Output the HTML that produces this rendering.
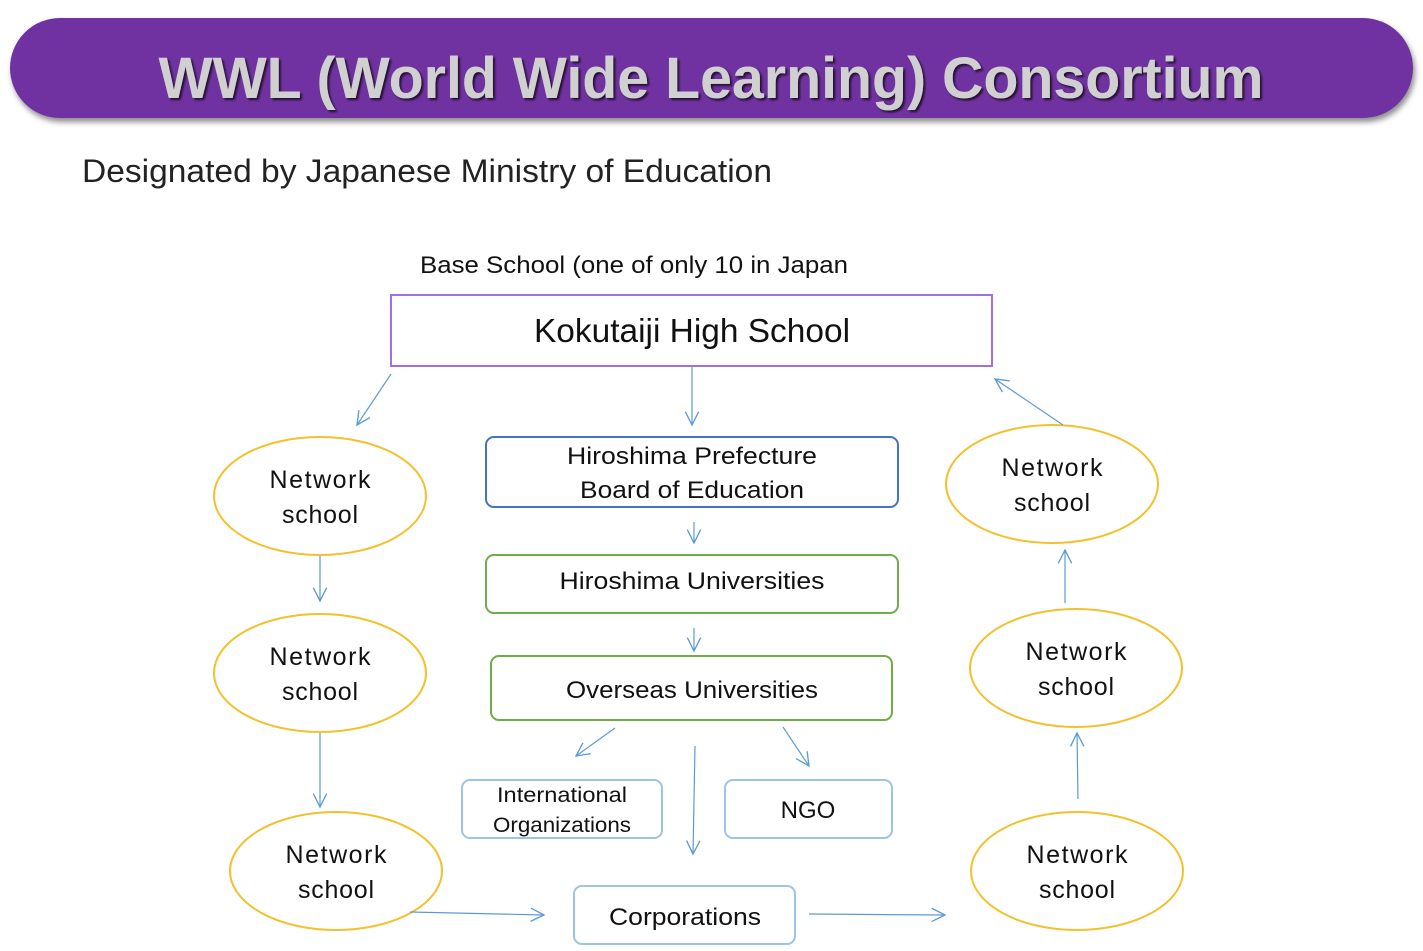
<!DOCTYPE html>
<html><head><meta charset="utf-8"><style>
html,body{margin:0;padding:0;background:#fff;}
svg{display:block;}
text{font-family:"Liberation Sans","DejaVu Sans",sans-serif;}
</style></head><body>
<svg width="1423" height="951" viewBox="0 0 1423 951" xmlns="http://www.w3.org/2000/svg">
<defs>
<filter id="sh" x="-5%" y="-20%" width="110%" height="150%"><feDropShadow dx="2" dy="4" stdDeviation="3" flood-color="#000" flood-opacity="0.45"/></filter>
<filter id="ts" x="-5%" y="-20%" width="110%" height="150%"><feDropShadow dx="2" dy="2" stdDeviation="1" flood-color="#000" flood-opacity="0.7"/></filter>
<marker id="ar" viewBox="0 0 12 12" refX="11" refY="6" markerWidth="16" markerHeight="16" markerUnits="userSpaceOnUse" orient="auto"><path d="M1,1 L11,6 L1,11" fill="none" stroke="#5b9bd5" stroke-width="1"/></marker>
</defs>
<rect x="10" y="18" width="1403" height="100" rx="50" fill="#7030a0" filter="url(#sh)"/>
<text x="711" y="98" text-anchor="middle" font-size="58" font-weight="bold" fill="#d0d0d0" textLength="1105" lengthAdjust="spacingAndGlyphs" filter="url(#ts)">WWL (World Wide Learning) Consortium</text>
<text x="82" y="182" font-size="32" fill="#222" textLength="690" lengthAdjust="spacingAndGlyphs">Designated by Japanese Ministry of Education</text>
<text x="420" y="273" font-size="24" fill="#111" textLength="428" lengthAdjust="spacingAndGlyphs">Base School (one of only 10 in Japan</text>
<rect x="391" y="295" width="601" height="71" fill="#fff" stroke="#a070e0" stroke-width="2"/>
<text x="692" y="342" text-anchor="middle" font-size="33" fill="#111" textLength="316" lengthAdjust="spacingAndGlyphs">Kokutaiji High School</text>
<rect x="486" y="437" width="412" height="70" rx="8" fill="#fff" stroke="#4472c4" stroke-width="2"/>
<text x="692" y="464" text-anchor="middle" font-size="24" fill="#111" textLength="250" lengthAdjust="spacingAndGlyphs">Hiroshima Prefecture</text>
<text x="692" y="498" text-anchor="middle" font-size="24" fill="#111" textLength="224" lengthAdjust="spacingAndGlyphs">Board of Education</text>
<rect x="486" y="555" width="412" height="58" rx="8" fill="#fff" stroke="#70ad47" stroke-width="2"/>
<text x="692" y="589" text-anchor="middle" font-size="24" fill="#111" textLength="265" lengthAdjust="spacingAndGlyphs">Hiroshima Universities</text>
<rect x="491" y="656" width="401" height="64" rx="8" fill="#fff" stroke="#70ad47" stroke-width="2"/>
<text x="692" y="698" text-anchor="middle" font-size="24" fill="#111" textLength="252" lengthAdjust="spacingAndGlyphs">Overseas Universities</text>
<rect x="462" y="780" width="200" height="58" rx="8" fill="#fff" stroke="#9dc3e6" stroke-width="2"/>
<text x="562" y="802" text-anchor="middle" font-size="21" fill="#111" textLength="130" lengthAdjust="spacingAndGlyphs">International</text>
<text x="562" y="832" text-anchor="middle" font-size="21" fill="#111" textLength="138" lengthAdjust="spacingAndGlyphs">Organizations</text>
<rect x="725" y="780" width="167" height="58" rx="8" fill="#fff" stroke="#9dc3e6" stroke-width="2"/>
<text x="808" y="818" text-anchor="middle" font-size="24" fill="#111">NGO</text>
<rect x="574" y="886" width="221" height="58" rx="8" fill="#fff" stroke="#9dc3e6" stroke-width="2"/>
<text x="685" y="925" text-anchor="middle" font-size="24" fill="#111" textLength="152" lengthAdjust="spacingAndGlyphs">Corporations</text>
<g fill="#fff" stroke="#f2c12e" stroke-width="2">
<ellipse cx="320" cy="496" rx="106" ry="59"/>
<ellipse cx="320" cy="673" rx="106" ry="59"/>
<ellipse cx="336" cy="871" rx="106" ry="59"/>
<ellipse cx="1052" cy="484" rx="106" ry="59"/>
<ellipse cx="1076" cy="668" rx="106" ry="59"/>
<ellipse cx="1077" cy="871" rx="106" ry="59"/>
</g>
<g font-size="25" fill="#111" text-anchor="middle" lengthAdjust="spacingAndGlyphs">
<text x="320" y="488" textLength="101">Network</text><text x="320" y="523" textLength="76">school</text>
<text x="320" y="665" textLength="101">Network</text><text x="320" y="700" textLength="76">school</text>
<text x="336" y="863" textLength="101">Network</text><text x="336" y="898" textLength="76">school</text>
<text x="1052" y="476" textLength="101">Network</text><text x="1052" y="511" textLength="76">school</text>
<text x="1076" y="660" textLength="101">Network</text><text x="1076" y="695" textLength="76">school</text>
<text x="1077" y="863" textLength="101">Network</text><text x="1077" y="898" textLength="76">school</text>
</g>
<g stroke="#5b9bd5" stroke-width="1.2" fill="none" marker-end="url(#ar)">
<line x1="391" y1="374" x2="357" y2="425"/>
<line x1="692" y1="367" x2="692" y2="425"/>
<line x1="1063" y1="425" x2="995" y2="379"/>
<line x1="694" y1="522" x2="694" y2="543"/>
<line x1="694" y1="628" x2="694" y2="651"/>
<line x1="320" y1="556" x2="320" y2="601"/>
<line x1="320" y1="733" x2="320" y2="807"/>
<line x1="615" y1="728" x2="576" y2="756"/>
<line x1="695" y1="746" x2="693" y2="854"/>
<line x1="783" y1="727" x2="809" y2="766"/>
<line x1="410" y1="912" x2="544" y2="915"/>
<line x1="809" y1="914" x2="945" y2="915"/>
<line x1="1065" y1="603" x2="1065" y2="550"/>
<line x1="1078" y1="799" x2="1077" y2="733"/>
</g>
</svg>
</body></html>
